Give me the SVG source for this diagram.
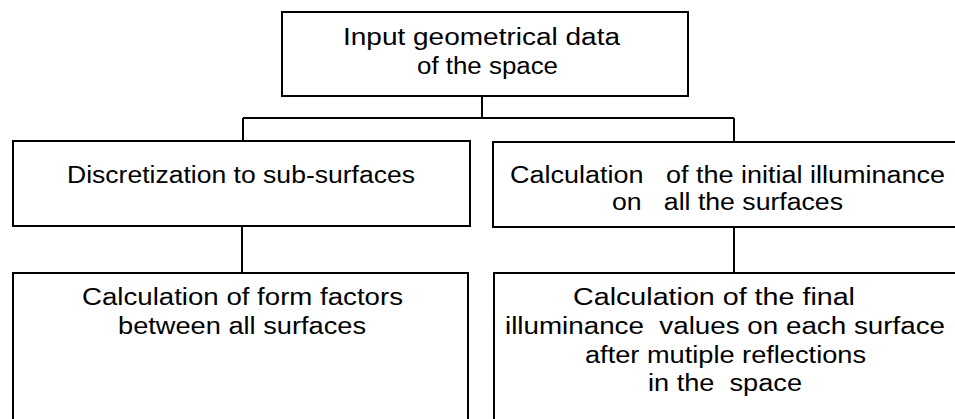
<svg xmlns="http://www.w3.org/2000/svg" width="955" height="419" viewBox="0 0 955 419">
<style>
.box{fill:#fff;stroke:#000;stroke-width:2}
.conn{fill:none;stroke:#000;stroke-width:2}
text{font-family:"Liberation Sans",Arial,sans-serif;font-size:23px;fill:#000}
</style>
<rect width="955" height="419" fill="#fff"/>
<g id="connectors">
<path class="conn" d="M482 96V118"/>
<path class="conn" d="M243 118H734"/>
<path class="conn" d="M243 118V142"/>
<path class="conn" d="M734 118V143"/>
<path class="conn" d="M242 226V273"/>
<path class="conn" d="M734 227V273"/>
</g>
<g id="input">
<rect class="box" x="282" y="12" width="406" height="84"/>
<text x="343" y="45" textLength="277" lengthAdjust="spacingAndGlyphs">Input geometrical data</text>
<text x="417" y="74" textLength="141" lengthAdjust="spacingAndGlyphs">of the space</text>
</g>
<g id="discretization">
<rect class="box" x="13" y="141" width="457" height="85"/>
<text x="67" y="183" textLength="348" lengthAdjust="spacingAndGlyphs">Discretization to sub-surfaces</text>
</g>
<g id="initial">
<rect class="box" x="493" y="142" width="475" height="85"/>
<text x="510" y="183" textLength="435" lengthAdjust="spacingAndGlyphs" xml:space="preserve">Calculation   of the initial illuminance</text>
<text x="612" y="210" textLength="231" lengthAdjust="spacingAndGlyphs" xml:space="preserve">on   all the surfaces</text>
</g>
<g id="formfactors">
<rect class="box" x="13" y="273" width="455" height="160"/>
<text x="82" y="305" textLength="321" lengthAdjust="spacingAndGlyphs">Calculation of form factors</text>
<text x="118" y="334" textLength="248" lengthAdjust="spacingAndGlyphs">between all surfaces</text>
</g>
<g id="final">
<rect class="box" x="494" y="273" width="475" height="160"/>
<text x="573" y="305" textLength="282" lengthAdjust="spacingAndGlyphs">Calculation of the final</text>
<text x="505" y="334" textLength="440" lengthAdjust="spacingAndGlyphs" xml:space="preserve">illuminance  values on each surface</text>
<text x="585" y="363" textLength="281" lengthAdjust="spacingAndGlyphs">after mutiple reflections</text>
<text x="648" y="391" textLength="154" lengthAdjust="spacingAndGlyphs" xml:space="preserve">in the  space</text>
</g>
</svg>
